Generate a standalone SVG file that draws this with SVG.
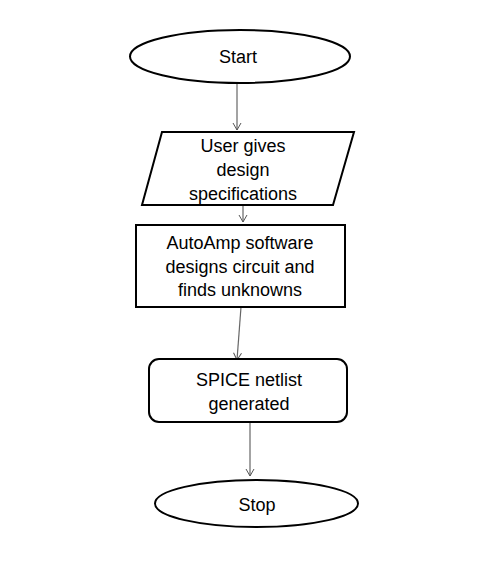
<svg xmlns="http://www.w3.org/2000/svg" width="498" height="575" viewBox="0 0 498 575">
<defs>
<marker id="arr" markerWidth="10" markerHeight="10" refX="8" refY="5" orient="auto" markerUnits="userSpaceOnUse">
<path d="M1,1 L8,5 L1,9" fill="none" stroke="#555" stroke-width="1"/>
</marker>
<style>
.shape{fill:#fff;stroke:#000;stroke-width:2}
.conn{stroke:#666;stroke-width:1.2;fill:none}
text{font-family:"Liberation Sans",Arial,sans-serif;font-size:18px;fill:#000;text-anchor:middle;dominant-baseline:central}
</style>
</defs>
<rect width="498" height="575" fill="#fff"/>
<g id="connectors">
<line class="conn" x1="237" y1="83" x2="237" y2="130" marker-end="url(#arr)"/>
<line class="conn" x1="243" y1="205" x2="243" y2="222" marker-end="url(#arr)"/>
<line class="conn" x1="241" y1="307" x2="237" y2="360" marker-end="url(#arr)"/>
<line class="conn" x1="250" y1="422" x2="250" y2="476" marker-end="url(#arr)"/>
</g>
<g id="start">
<ellipse class="shape" cx="240" cy="56.5" rx="110" ry="26.5"/>
<text x="238" y="57">Start</text>
</g>
<g id="input">
<polygon class="shape" points="162,132 354,132 333,205 142,205"/>
<text x="243" y="146">User gives</text>
<text x="243" y="170">design</text>
<text x="243" y="194">specifications</text>
</g>
<g id="process">
<rect class="shape" x="136" y="225" width="209" height="82"/>
<text x="240" y="243">AutoAmp software</text>
<text x="240" y="267">designs circuit and</text>
<text x="240" y="290">finds unknowns</text>
</g>
<g id="netlist">
<rect class="shape" x="149" y="359" width="198" height="63" rx="10" ry="10"/>
<text x="249" y="380">SPICE netlist</text>
<text x="249" y="404">generated</text>
</g>
<g id="stop">
<ellipse class="shape" cx="256.5" cy="503.5" rx="101.5" ry="23.5"/>
<text x="257" y="505">Stop</text>
</g>
</svg>
